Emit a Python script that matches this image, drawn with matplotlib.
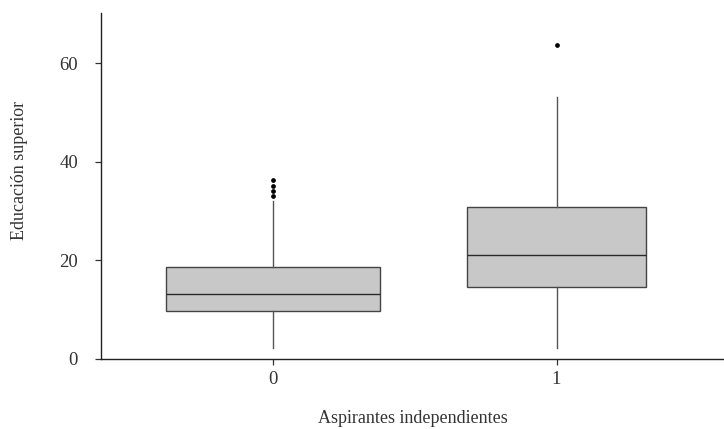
import numpy as np
import matplotlib
matplotlib.use("Agg")
import matplotlib.pyplot as plt

plt.rcParams['font.family'] = ['Liberation Serif', 'DejaVu Serif']

# data
grupos = ["0", "1"]
q1 = [9.8, 14.7]
mediana = [13.1, 21.2]
q3 = [18.7, 30.9]
bigote_inf = [2.3, 2.3]
bigote_sup = [32.0, 53.1]
atipicos = [[33.1, 34.1, 35.2, 36.3], [63.8]]

stats = []
for i in range(len(grupos)):
    stats.append(dict(label=grupos[i], med=mediana[i], q1=q1[i], q3=q3[i],
                      whislo=bigote_inf[i], whishi=bigote_sup[i],
                      fliers=atipicos[i]))

fig = plt.figure(figsize=(7.24, 4.29), dpi=100)
ax = fig.add_axes([0.1395, 0.1632, 0.8605, 0.8065])

# boxes have different widths (varwidth)
ax.bxp(stats, positions=[0, 1], widths=[0.755, 0.631], patch_artist=True,
       showcaps=False,
       boxprops=dict(facecolor="#c8c8c8", edgecolor="#444444", linewidth=1.0),
       medianprops=dict(color="#2a2a2a", linewidth=1.0),
       whiskerprops=dict(color="#555555", linewidth=1.0),
       flierprops=dict(marker="o", markersize=2.4, markerfacecolor="black",
                       markeredgecolor="black"))

ax.set_xlim(-0.605, 1.59)
ax.set_ylim(0, 70.2)
ax.set_yticks([0, 20, 40, 60])
ax.set_xticks([0, 1])
ax.set_xticklabels(grupos)

for s in ["top", "right"]:
    ax.spines[s].set_visible(False)
for s in ["left", "bottom"]:
    ax.spines[s].set_linewidth(1.0)
    ax.spines[s].set_color("#222222")

ax.tick_params(axis="both", labelsize=13.5, colors="#333333", length=4.5, width=0.9)
ax.tick_params(axis="x", pad=4)
ax.tick_params(axis="y", pad=12)

ax.set_xlabel("Aspirantes independientes", fontsize=13, color="#333333", labelpad=16)
ax.set_ylabel("Educación superior", fontsize=13, color="#333333")
ax.yaxis.set_label_coords(-0.1176, 0.546)

fig.savefig("out.png", dpi=100)
